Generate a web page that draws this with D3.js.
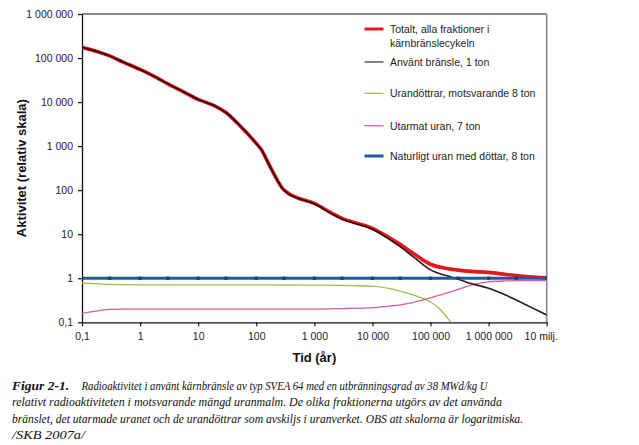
<!DOCTYPE html>
<html><head><meta charset="utf-8">
<script src="https://cdn.jsdelivr.net/npm/d3@7"></script>
<style>
body{margin:0;background:#fff;}
svg{display:block;font-family:"Liberation Sans",Arial,sans-serif;}
</style></head>
<body><svg id="c" width="639" height="445"></svg>
<script>
// ---- data ----
const timesMain = [0.1,0.2,0.3,0.5,1,2,3,5,10,20,30,50,100,125,150,185,230,275,350,500,1000,2000,3000,5000,1e4,2e4,3e4,5e4,1e5,2e5,3e5,5e5,1e6,2e6,3e6,5e6,1e7];
const totalValues = [175000,135000,112000,82000,55000,35000,26000,18500,11500,8000,5800,3100,1150,800,500,290,170,115,86,68,50,30,23,18.3,13.6,8.2,5.9,3.7,2.08,1.65,1.53,1.43,1.36,1.22,1.15,1.08,1.02];
const spentValues = [175000,135000,112000,82000,55000,35000,26000,18500,11500,8000,5800,3100,1150,800,500,290,170,115,85,67,49,29,22,17.5,13.0,7.5,5.2,3.1,1.55,1.12,0.95,0.76,0.59,0.41,0.32,0.23,0.147];
const daughterTimes = [0.1,0.2,0.3,0.5,1,10,100,1000,3000,5000,1e4,2e4,3e4,5e4,7e4,1e5,1.5e5,2e5,2.5e5];
const daughterValues = [0.78,0.745,0.725,0.715,0.71,0.71,0.705,0.70,0.69,0.68,0.66,0.58,0.51,0.42,0.36,0.29,0.19,0.12,0.085];
const depletedTimes = [0.1,0.2,0.3,0.5,1,10,100,1000,3000,1e4,2e4,3e4,5e4,1e5,2e5,3e5,5e5,1e6,2e6,3e6,5e6,1e7];
const depletedValues = [0.16,0.185,0.197,0.2,0.2,0.2,0.2,0.2,0.205,0.215,0.235,0.25,0.28,0.36,0.47,0.56,0.70,0.83,0.87,0.88,0.88,0.88];
const naturalTimes = [0.1,0.3,1,3,10,30,100,300,1000,3000,1e4,3e4,1e5,3e5,1e6,3e6,1e7];
const naturalValues = [1,1,1,1,1,1,1,1,1,1,1,1,1,1,1,1,1];
const xTicks = [0.1,1,10,100,1000,1e4,1e5,1e6,1e7];
const xTickLabels = ["0,1","1","10","100","1 000","10 000","100 000","1 000 000","10 milj."];
const yTicks = [0.1,1,10,100,1000,1e4,1e5,1e6];
const yTickLabels = ["0,1","1","10","100","1 000","10 000","100 000","1 000 000"];
const legendLabels = [["Totalt, alla fraktioner i","kärnbränslecykeln"],["Använt bränsle, 1 ton"],["Urandöttrar, motsvarande 8 ton"],["Utarmat uran, 7 ton"],["Naturligt uran med döttar, 8 ton"]];
const captionLabel = "Figur 2-1.";
const captionLines = [
 "Radioaktivitet i använt kärnbränsle av typ SVEA 64 med en utbränningsgrad av 38 MWd/kg U",
 "relativt radioaktiviteten i motsvarande mängd uranmalm. De olika fraktionerna utgörs av det använda",
 "bränslet, det utarmade uranet och de urandöttrar som avskiljs i uranverket. OBS att skalorna är logaritmiska.",
 "/SKB 2007a/"
];

// ---- layout ----
const svg = d3.select("#c");
const L=82, R=546.7, T=14, B=322.3;
const x = d3.scaleLog().domain([0.1,1e7]).range([L,R]);
const y = d3.scaleLog().domain([0.1,1e6]).range([B,T]);

svg.append("defs").append("clipPath").attr("id","clip")
  .append("rect").attr("x",L).attr("y",T).attr("width",R-L).attr("height",B-T);

// frame
svg.append("line").attr("x1",L).attr("x2",R).attr("y1",T).attr("y2",T).attr("stroke","#111").attr("stroke-width",1.2);
svg.append("line").attr("x1",R).attr("x2",R).attr("y1",T).attr("y2",B).attr("stroke","#8a8a8a").attr("stroke-width",1.6);

// axes
const xAxis = d3.axisBottom(x).tickValues(xTicks).tickFormat((d,i)=>xTickLabels[i]).tickSizeInner(4).tickSizeOuter(0).tickPadding(6);
const gx = svg.append("g").attr("transform",`translate(0,${B})`).call(xAxis);
const yAxis = d3.axisLeft(y).tickValues(yTicks).tickFormat((d,i)=>yTickLabels[i]).tickSizeInner(4).tickSizeOuter(0).tickPadding(5);
const gy = svg.append("g").attr("transform",`translate(${L},0)`).call(yAxis);
[gx,gy].forEach(g=>{
  g.select(".domain").attr("stroke","#111").attr("stroke-width",1.3);
  g.selectAll(".tick line").attr("stroke","#111").attr("stroke-width",1.2);
  g.selectAll(".tick text").attr("fill","#222").style("font-size","10.5px").style("font-family","'Liberation Sans',Arial,sans-serif");
});
gx.selectAll(".tick text").filter((d,i)=>i===xTicks.length-1).attr("dx",-6);

// axis titles
svg.append("text").attr("x",(L+R)/2).attr("y",362).attr("text-anchor","middle")
  .style("font-weight","bold").style("font-size","13px").attr("fill","#111").text("Tid (år)");
svg.append("text").attr("transform",`translate(26,${(T+B)/2}) rotate(-90)`).attr("text-anchor","middle")
  .style("font-weight","bold").style("font-size","13px").attr("fill","#111").text("Aktivitet (relativ skala)");

// lines
const line = d3.line().x(d=>x(d[0])).y(d=>y(d[1])).curve(d3.curveMonotoneX);
const plot = svg.append("g").attr("clip-path","url(#clip)");
const zip=(a,b)=>a.map((t,i)=>[t,b[i]]);
plot.append("path").datum(zip(daughterTimes,daughterValues)).attr("d",line).attr("fill","none").attr("stroke","#9cc24a").attr("stroke-width",1.3);
plot.append("path").datum(zip(depletedTimes,depletedValues)).attr("d",line).attr("fill","none").attr("stroke","#d65ca4").attr("stroke-width",1.3);
plot.append("path").datum(zip(timesMain,totalValues)).attr("d",line).attr("fill","none").attr("stroke","#e3191b").attr("stroke-width",3.6);
plot.append("path").datum(zip(timesMain,spentValues)).attr("d",line).attr("fill","none").attr("stroke","#1a0000").attr("stroke-width",1.6).attr("stroke-opacity",0.9);
plot.append("path").datum(zip(naturalTimes,naturalValues)).attr("d",line).attr("fill","none").attr("stroke","#1f5b9c").attr("stroke-width",3);
plot.selectAll("rect.m").data(zip(naturalTimes,naturalValues)).join("rect").attr("class","m")
  .attr("x",d=>x(d[0])-1.6).attr("y",d=>y(d[1])-1.6).attr("width",3.2).attr("height",3.2).attr("fill","#173f73");

// legend
const legStyles=[{c:"#e3191b",w:3},{c:"#333",w:1.2},{c:"#9cc24a",w:1.3},{c:"#d65ca4",w:1.3},{c:"#1f5b9c",w:3}];
const legY=[29,62,93.3,125.7,156];
const lg = svg.append("g");
legendLabels.forEach((lab,i)=>{
  lg.append("line").attr("x1",364.5).attr("x2",383.5).attr("y1",legY[i]).attr("y2",legY[i]).attr("stroke",legStyles[i].c).attr("stroke-width",legStyles[i].w);
  lab.forEach((s,j)=>{
    lg.append("text").attr("x",390).attr("y",legY[i]+3.8+j*14.5).style("font-size","10.5px").attr("fill","#222").text(s);
  });
});

// caption
const cap = svg.append("g").style("font-family","'Liberation Serif','Times New Roman',serif").style("font-size","13px").style("font-style","italic").attr("fill","#111");
const capY=[389.5,406,422.5,438.5];
const capX=[81.5,12,12,12];
const capW=[406,490,511,73];
cap.append("text").attr("x",12).attr("y",capY[0]).style("font-weight","bold").style("font-size","13.5px").text(captionLabel);
captionLines.forEach((s,i)=>{
  cap.append("text").attr("x",capX[i]).attr("y",capY[i])
    .attr("textLength",capW[i]).attr("lengthAdjust","spacingAndGlyphs").text(s);
});
</script></body></html>
